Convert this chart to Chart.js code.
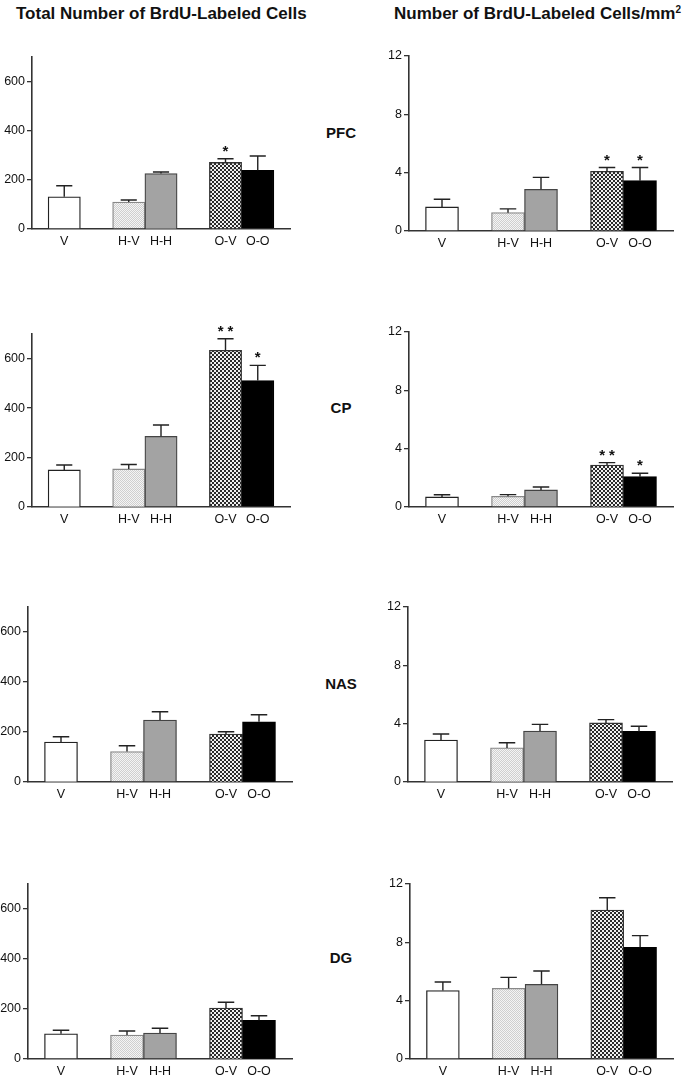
<!DOCTYPE html>
<html><head><meta charset="utf-8">
<script src="https://cdn.jsdelivr.net/npm/chart.js@4/dist/chart.umd.min.js"></script>
<style>
html,body{margin:0;padding:0;background:#fff;}
body{width:685px;height:1079px;position:relative;overflow:hidden;font-family:'Liberation Sans',Arial,sans-serif;}
canvas{position:absolute;}
.t{position:absolute;font-weight:bold;color:#111;white-space:nowrap;line-height:1;}
sup{font-size:10px;vertical-align:6px;line-height:0;}
</style></head><body>
<div class="t" style="left:16px;top:5px;font-size:17px;">Total Number of BrdU-Labeled Cells</div>
<div class="t" style="left:394px;top:5px;font-size:17px;">Number of BrdU-Labeled Cells/mm<sup>2</sup></div>
<div id="regs"></div>
<script>
// ---- data ----
const categories = ['V', 'H-V', 'H-H', 'O-V', 'O-O'];
const slotLabels = ['', 'V', '', 'H-V', 'H-H', '', 'O-V', 'O-O', ''];
const regions = ['PFC', 'CP', 'NAS', 'DG'];

const totalTicks = [0, 200, 400, 600];
const totalMax = 700;
const densTicks = [0, 4, 8, 12];
const densMax = 12;

const totalPFC = [131, 110, 226, 271, 239];
const totalPFCErr = [45, 8, 6, 15, 58];
const totalPFCSig = ['', '', '', '*', ''];
const totalCP = [150, 154, 286, 634, 512];
const totalCPErr = [20, 18, 46, 47, 61];
const totalCPSig = ['', '', '', '**', '*'];
const totalNAS = [160, 122, 248, 192, 241];
const totalNASErr = [21, 23, 33, 9, 28];
const totalNASSig = ['', '', '', '', ''];
const totalDG = [101, 96, 104, 204, 155];
const totalDGErr = [14, 16, 19, 23, 18];
const totalDGSig = ['', '', '', '', ''];

const densPFC = [1.65, 1.26, 2.86, 4.09, 3.45];
const densPFCErr = [0.53, 0.26, 0.82, 0.26, 0.9];
const densPFCSig = ['', '', '', '*', '*'];
const densCP = [0.69, 0.73, 1.17, 2.88, 2.08];
const densCPErr = [0.15, 0.12, 0.2, 0.16, 0.23];
const densCPSig = ['', '', '', '**', '*'];
const densNAS = [2.87, 2.34, 3.49, 4.05, 3.47];
const densNASErr = [0.42, 0.35, 0.46, 0.23, 0.35];
const densNASSig = ['', '', '', '', ''];
const densDG = [4.69, 4.85, 5.12, 10.22, 7.66];
const densDGErr = [0.59, 0.75, 0.91, 0.84, 0.8];
const densDGSig = ['', '', '', '', ''];

// ---- rendering ----
const FONT = "'Liberation Sans', Arial, sans-serif";

function checker(c1, c2, size) {
  const p = document.createElement('canvas');
  p.width = p.height = size * 2;
  const g = p.getContext('2d');
  g.fillStyle = c2; g.fillRect(0, 0, size * 2, size * 2);
  g.fillStyle = c1; g.fillRect(0, 0, size, size); g.fillRect(size, size, size, size);
  return g.createPattern(p, 'repeat');
}
const fills = {
  'V': '#ffffff',
  'H-V': checker('#cfcfcf', '#f4f4f4', 1),
  'H-H': '#a3a3a3',
  'O-V': checker('#2a2a2a', '#f0f0f0', 2),
  'O-O': '#000000'
};
const borders = { 'V': '#222', 'H-V': '#888', 'H-H': '#444', 'O-V': '#333', 'O-O': '#000' };

function toSlots(arr, blank) {
  return slotLabels.map(l => { const k = categories.indexOf(l); return k < 0 ? blank : arr[k]; });
}

const errPlugin = {
  id: 'errbars',
  afterDatasetsDraw(chart, args, opts) {
    const ctx = chart.ctx, y = chart.scales.y, meta = chart.getDatasetMeta(0);
    const vals = chart.data.datasets[0].data;
    ctx.save();
    vals.forEach((v, i) => {
      if (v == null) return;
      const bar = meta.data[i].getProps(['x', 'y', 'width'], true);
      const yt = y.getPixelForValue(v + opts.errs[i]);
      const cw = bar.width * 0.5;
      ctx.strokeStyle = '#222';
      ctx.lineWidth = 1.4;
      ctx.beginPath();
      ctx.moveTo(bar.x, bar.y); ctx.lineTo(bar.x, yt);
      ctx.moveTo(bar.x - cw / 2, yt); ctx.lineTo(bar.x + cw / 2, yt);
      ctx.stroke();
      const s = opts.sigs[i];
      if (s) {
        ctx.fillStyle = '#111';
        ctx.font = 'bold 15px ' + FONT;
        ctx.textAlign = 'center';
        ctx.textBaseline = 'alphabetic';
        try { ctx.letterSpacing = s.length > 1 ? '4px' : '0px'; } catch (e) {}
        ctx.fillText(s, bar.x + (s.length > 1 ? 2 : 0), yt - 3);
      }
    });
    ctx.restore();
  }
};

function panel(g, means, errs, sigs, ticks, max) {
  const YW = 40, XH = 24, PT = 12, PR = 6;
  const cv = document.createElement('canvas');
  const pw = g.r - g.l, ph = g.b - g.t;
  cv.width = YW + pw + PR; cv.height = PT + ph + XH;
  cv.style.left = (g.l - YW) + 'px'; cv.style.top = (g.t - PT) + 'px';
  document.body.appendChild(cv);
  const data = toSlots(means, null);
  new Chart(cv, {
    type: 'bar',
    data: {
      labels: slotLabels,
      datasets: [{
        data: data,
        backgroundColor: slotLabels.map(l => fills[l] || '#fff'),
        borderColor: slotLabels.map(l => borders[l] || '#000'),
        borderWidth: 1.3,
        borderSkipped: 'bottom',
        barPercentage: 1, categoryPercentage: 1
      }]
    },
    options: {
      responsive: false, animation: false, devicePixelRatio: 1,
      layout: { padding: { top: PT, right: PR, left: 0, bottom: 0 } },
      plugins: { legend: { display: false }, tooltip: { enabled: false },
        errbars: { errs: toSlots(errs, 0), sigs: toSlots(sigs, '') } },
      scales: {
        x: {
          type: 'category', offset: false,
          grid: { display: false, drawTicks: false },
          border: { display: true, color: '#333', width: 1.6 },
          ticks: { autoSkip: false, maxRotation: 0, padding: 5, color: '#111', font: { family: FONT, size: 12.5 } },
          afterFit: s => { s.height = XH; s.paddingLeft = s.paddingRight = s.paddingTop = s.paddingBottom = 0; }
        },
        y: {
          type: 'linear', min: 0, max: max,
          grid: { display: true, drawOnChartArea: false, drawTicks: true, tickLength: 5, color: '#333', lineWidth: 1.3 },
          border: { display: true, color: '#333', width: 1.6 },
          ticks: { padding: 2, color: '#111', font: { family: FONT, size: 12.5 } },
          afterBuildTicks: s => { s.ticks = ticks.map(v => ({ value: v })); },
          afterFit: s => { s.width = YW; s.paddingLeft = s.paddingRight = s.paddingTop = s.paddingBottom = 0; }
        }
      }
    },
    plugins: [errPlugin]
  });
}

const leftGeo = [
  { l: 32, t: 57, r: 290, b: 229 },
  { l: 32, t: 334, r: 290, b: 507 },
  { l: 28, t: 607, r: 292, b: 782 },
  { l: 28, t: 884, r: 292, b: 1059 }
];
const rightGeo = [
  { l: 409, t: 56, r: 673, b: 231 },
  { l: 409, t: 332, r: 673, b: 507 },
  { l: 408, t: 607, r: 672, b: 782 },
  { l: 410, t: 884, r: 673, b: 1059 }
];
const totals = [[totalPFC, totalPFCErr, totalPFCSig], [totalCP, totalCPErr, totalCPSig], [totalNAS, totalNASErr, totalNASSig], [totalDG, totalDGErr, totalDGSig]];
const dens = [[densPFC, densPFCErr, densPFCSig], [densCP, densCPErr, densCPSig], [densNAS, densNASErr, densNASSig], [densDG, densDGErr, densDGSig]];
const regY = [133, 408, 684, 958];

regions.forEach((r, i) => {
  panel(leftGeo[i], totals[i][0], totals[i][1], totals[i][2], totalTicks, totalMax);
  panel(rightGeo[i], dens[i][0], dens[i][1], dens[i][2], densTicks, densMax);
  const d = document.createElement('div');
  d.className = 't';
  d.style.cssText = 'left:300px;width:82px;text-align:center;font-size:15px;top:' + (regY[i] - 8) + 'px;';
  d.textContent = r;
  document.getElementById('regs').appendChild(d);
});
</script>
</body></html>
